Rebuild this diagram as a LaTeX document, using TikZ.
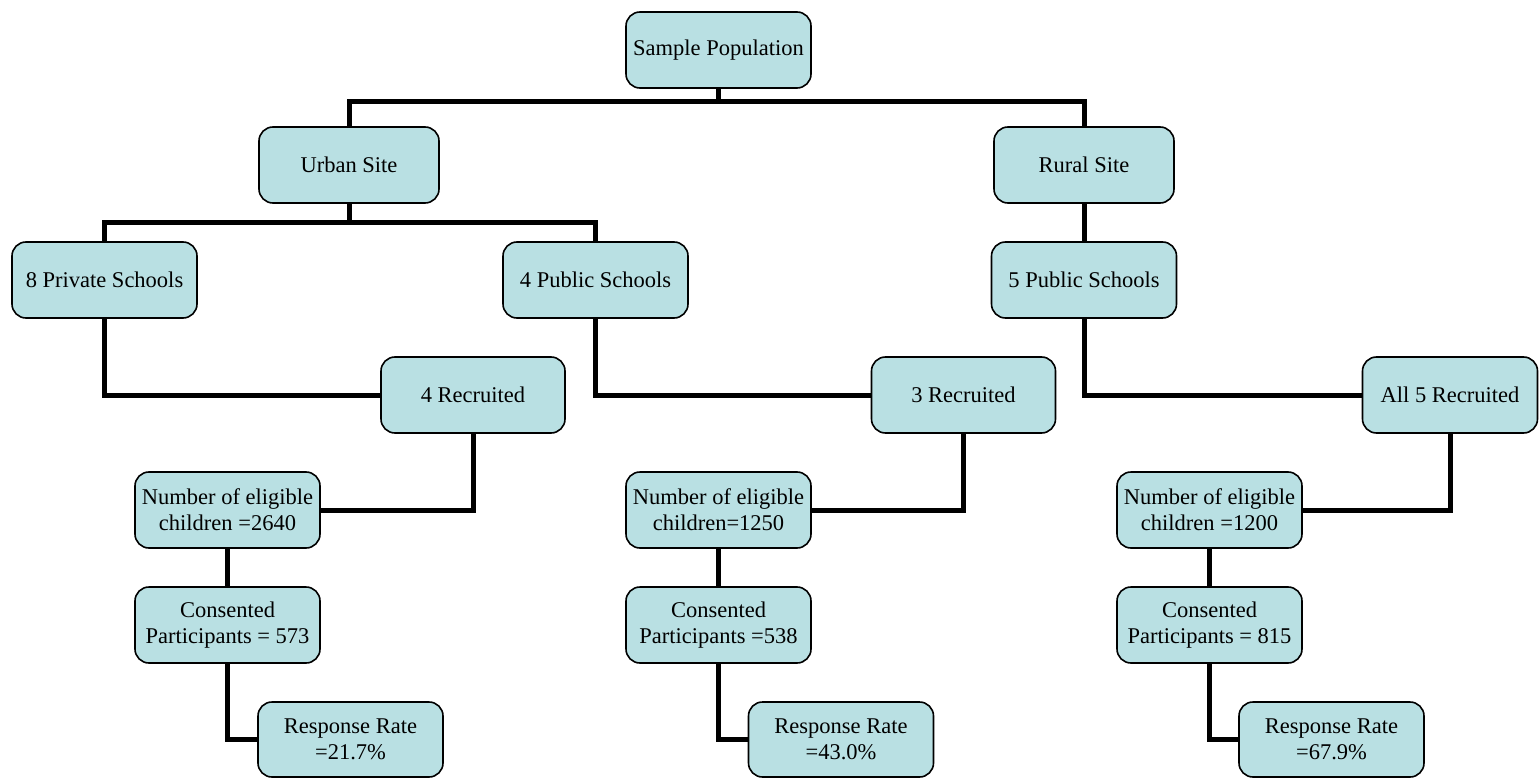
\documentclass[tikz,border=0pt]{standalone}
\usepackage{fontspec}
\setmainfont{Liberation Serif}
\definecolor{boxfill}{RGB}{185,224,227}
\begin{document}
\begin{tikzpicture}[x=1pt,y=-1pt,
  box/.style={draw=black, line width=1.6pt, rounded corners=14pt, fill=boxfill,
    minimum width=185pt, minimum height=76pt, inner sep=0pt, align=center,
    font=\fontsize{22.5}{26}\selectfont},
  conn/.style={line width=5pt, draw=black}]
\useasboundingbox (0,0) rectangle (1539,778);
% nodes
\node[box] (sp) at (718.5,50) {Sample Population};
\node[box, minimum width=180pt] (urban) at (349,165) {Urban Site};
\node[box, minimum width=180pt] (rural) at (1084,165) {Rural Site};
\node[box] (priv) at (104.5,280) {8 Private Schools};
\node[box] (pub1) at (595.5,280) {4 Public Schools};
\node[box] (pub2) at (1084,280) {5 Public Schools};
\node[box, minimum width=184pt] (rec1) at (473,395) {4 Recruited};
\node[box, minimum width=184pt] (rec2) at (963.5,395) {3 Recruited};
\node[box, minimum width=175pt] (rec3) at (1450,395) {All 5 Recruited};
\node[box] (num1) at (227.5,510) {Number of eligible\\children =2640};
\node[box] (num2) at (718.5,510) {Number of eligible\\children=1250};
\node[box] (num3) at (1209.5,510) {Number of eligible\\children =1200};
\node[box] (con1) at (227.5,625) {Consented\\Participants = 573};
\node[box] (con2) at (718.5,625) {Consented\\Participants =538};
\node[box] (con3) at (1209.5,625) {Consented\\Participants = 815};
\node[box, minimum height=75pt] (resp1) at (350.5,739.5) {Response Rate\\=21.7\%};
\node[box, minimum height=75pt] (resp2) at (841,739.5) {Response Rate\\=43.0\%};
\node[box, minimum height=75pt] (resp3) at (1331.5,739.5) {Response Rate\\=67.9\%};
% connectors
\draw[conn] (sp.south) -- ++(0,13) -| (urban.north);
\draw[conn] (sp.south) ++(0,13) -| (rural.north);
\draw[conn] (urban.south) -- ++(0,19) -| (priv.north);
\draw[conn] (urban.south) ++(0,19) -| (pub1.north);
\draw[conn] (rural.south) -- (pub2.north);
\draw[conn] (priv.south) |- (rec1.west);
\draw[conn] (pub1.south) |- (rec2.west);
\draw[conn] (pub2.south) |- (rec3.west);
\draw[conn] (rec1.south) |- (num1.east);
\draw[conn] (rec2.south) |- (num2.east);
\draw[conn] (rec3.south) |- (num3.east);
\draw[conn] (num1.south) -- (con1.north);
\draw[conn] (num2.south) -- (con2.north);
\draw[conn] (num3.south) -- (con3.north);
\draw[conn] (con1.south) |- (resp1.west);
\draw[conn] (con2.south) |- (resp2.west);
\draw[conn] (con3.south) |- (resp3.west);
\end{tikzpicture}
\end{document}
